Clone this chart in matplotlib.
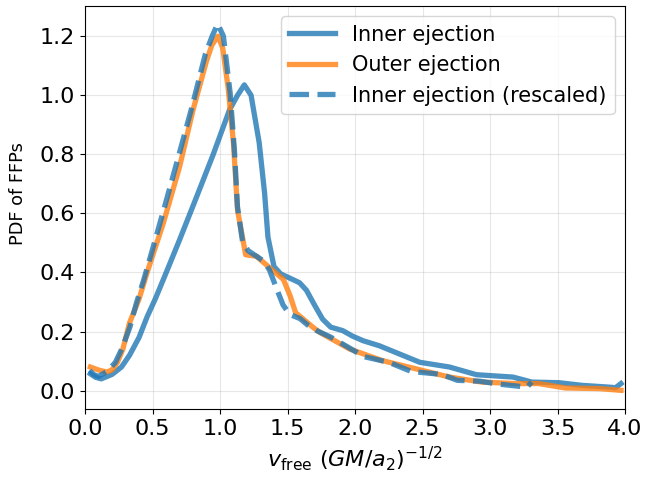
import matplotlib
matplotlib.use("Agg")
import matplotlib.pyplot as plt

inner_x = [0.04, 0.08, 0.12, 0.2, 0.27, 0.33, 0.4, 0.46, 0.52, 0.58, 0.7, 0.83, 0.95, 1.07, 1.13, 1.18,
           1.23, 1.29, 1.33, 1.355, 1.40, 1.45, 1.54, 1.59, 1.64, 1.70, 1.76, 1.82, 1.91, 1.98, 2.06,
           2.18, 2.33, 2.48, 2.70, 2.90, 3.17, 3.22, 3.31, 3.51, 3.68, 3.88, 3.93, 3.97]
inner_y = [0.057, 0.045, 0.04, 0.055, 0.08, 0.12, 0.18, 0.25, 0.31, 0.376, 0.51, 0.66, 0.80, 0.95, 1.0, 1.035,
           1.00, 0.84, 0.67, 0.52, 0.42, 0.395, 0.376, 0.365, 0.34, 0.29, 0.242, 0.215, 0.203, 0.185, 0.169,
           0.152, 0.124, 0.096, 0.080, 0.054, 0.046, 0.04, 0.029, 0.027, 0.018, 0.012, 0.01, 0.024]

outer_x = [0.04, 0.1, 0.16, 0.2, 0.24, 0.28, 0.33, 0.4, 0.46, 0.58, 0.70, 0.80, 0.90, 0.94, 0.985, 1.02,
           1.06, 1.10, 1.13, 1.17, 1.19, 1.27, 1.37, 1.47, 1.52, 1.56, 1.69, 1.74, 1.96, 2.2, 2.45, 2.70,
           2.94, 3.19, 3.36, 3.56, 3.81, 3.97]
outer_y = [0.08, 0.07, 0.063, 0.07, 0.096, 0.14, 0.23, 0.31, 0.40, 0.567, 0.757, 0.95, 1.116, 1.17, 1.2, 1.16,
           1.026, 0.836, 0.61, 0.51, 0.46, 0.455, 0.415, 0.376, 0.32, 0.264, 0.214, 0.197, 0.141, 0.102, 0.074, 0.046,
           0.029, 0.024, 0.024, 0.009, 0.007, 0.001]

resc_x = [0.033, 0.067, 0.10, 0.167, 0.225, 0.275, 0.333, 0.383, 0.433, 0.483, 0.583, 0.692, 0.792, 0.892,
          0.942, 0.983, 1.025, 1.075, 1.108, 1.129, 1.167, 1.208, 1.283, 1.325, 1.367, 1.417, 1.467, 1.517,
          1.592, 1.65, 1.717, 1.817, 1.942, 2.067, 2.25, 2.417, 2.642, 2.758, 2.925, 3.067, 3.233, 3.275, 3.308]
resc_y = [0.068, 0.054, 0.048, 0.066, 0.096, 0.144, 0.216, 0.30, 0.372, 0.451, 0.612, 0.792, 0.96, 1.14,
          1.2, 1.242, 1.2, 1.008, 0.804, 0.624, 0.504, 0.474, 0.451, 0.438, 0.408, 0.348, 0.29, 0.258,
          0.244, 0.222, 0.203, 0.182, 0.149, 0.115, 0.096, 0.065, 0.055, 0.035, 0.032, 0.022, 0.014, 0.012, 0.029]

x_ticks = [0.0, 0.5, 1.0, 1.5, 2.0, 2.5, 3.0, 3.5, 4.0]
y_ticks = [0.0, 0.2, 0.4, 0.6, 0.8, 1.0, 1.2]

plt.rcParams['font.family'] = ['DejaVu Sans']
fig = plt.figure(figsize=(6.47, 4.78), dpi=100)
ax = fig.add_axes([0.1314, 0.1444, 0.8346, 0.843])

ax.plot(inner_x, inner_y, color='tab:blue', lw=3.8, alpha=0.8, label='Inner ejection')
ax.plot(outer_x, outer_y, color='tab:orange', lw=3.8, alpha=0.8, label='Outer ejection')
ax.plot(resc_x, resc_y, color='tab:blue', lw=3.8, alpha=0.8, ls='--', label='Inner ejection (rescaled)')

ax.set_xlim(0, 4)
ax.set_ylim(-0.062, 1.302)
ax.set_xticks(x_ticks)
ax.set_yticks(y_ticks)
ax.tick_params(labelsize=16)
ax.grid(True, alpha=0.3)
ax.set_xlabel(r'$v_{\rm free}\ (GM/a_2)^{-1/2}$', fontsize=16)
ax.set_ylabel('PDF of FFPs', fontsize=12.8)
ax.yaxis.set_label_coords(-0.107, 0.535)
ax.legend(loc='upper right', fontsize=15, handlelength=2.2)

fig.savefig('out.png', dpi=100)
